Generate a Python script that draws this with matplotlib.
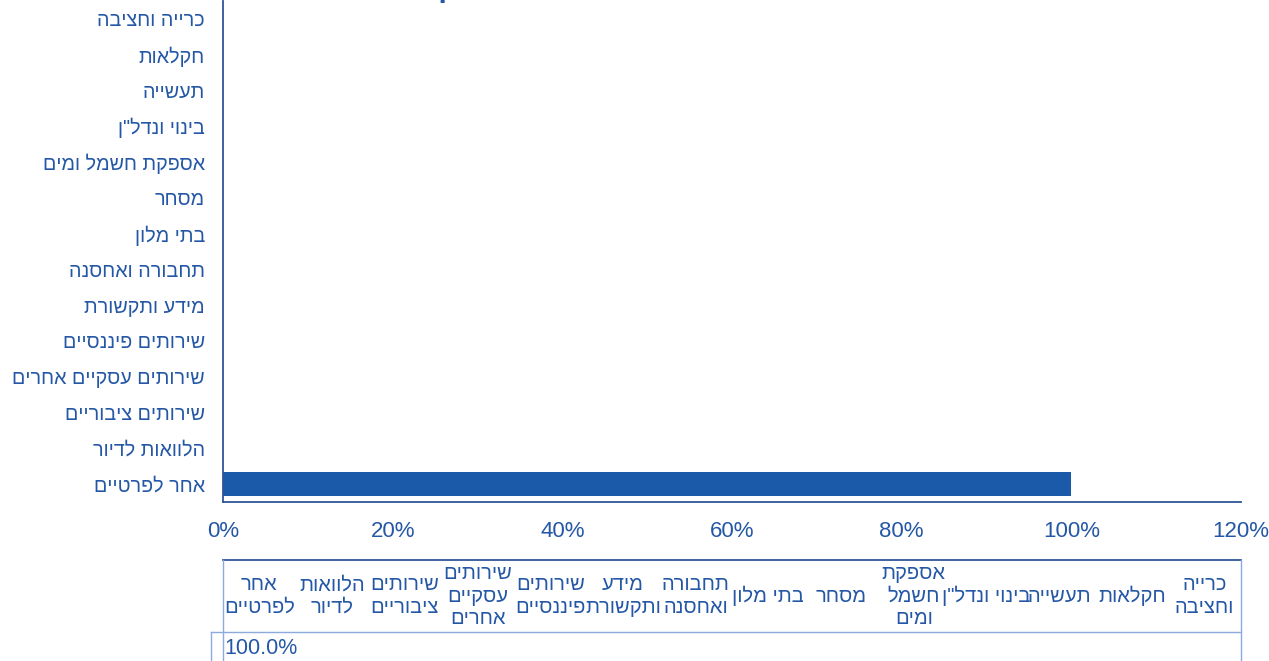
import numpy as np
import matplotlib.pyplot as plt
from matplotlib.ticker import FuncFormatter

# נתונים
categories = ['כרייה וחציבה', 'חקלאות', 'תעשייה', 'בינוי ונדל"ן', 'אספקת חשמל ומים',
              'מסחר', 'בתי מלון', 'תחבורה ואחסנה', 'מידע ותקשורת', 'שירותים פיננסיים',
              'שירותים עסקיים אחרים', 'שירותים ציבוריים', 'הלוואות לדיור', 'אחר לפרטיים']
values = [np.nan] * 13 + [1.0]
xticks = [0, 0.2, 0.4, 0.6, 0.8, 1.0, 1.2]
# כותרות הטבלה (שבירת שורות כפי שמופיע)
table_headers = ['כרייה\nוחציבה', 'חקלאות', 'תעשייה', 'בינוי ונדל"ן', 'אספקת\nחשמל\nומים',
                 'מסחר', 'בתי מלון', 'תחבורה\nואחסנה', 'מידע\nותקשורת', 'שירותים\nפיננסיים',
                 'שירותים\nעסקיים\nאחרים', 'שירותים\nציבוריים', 'הלוואות\nלדיור', 'אחר\nלפרטיים']
title = 'התפלגות האשראי הבעייתי לפי ענפי משק'

text_color = '#2457A5'
bar_color = '#1A5AA8'
line_dark = '#2F5597'
line_light = '#8EA9DB'

plt.rcParams['font.family'] = ['Liberation Sans', 'DejaVu Sans']


def rtl(s):
    # matplotlib לא מבצע bidi - הופכים כל שורה
    return '\n'.join(line[::-1] for line in s.split('\n'))


W, H = 1269, 661
fig = plt.figure(figsize=(W / 100, H / 100), dpi=100)

# גרף עמודות אופקי
ax = fig.add_axes([223 / W, (H - 502) / H, (1241 - 223) / W, 501 / H])
y = np.arange(len(categories))[::-1]
ax.barh(y, values, height=0.67, color=bar_color)
ax.set_ylim(-0.5, len(categories) - 0.5)
ax.set_xlim(0, 1.2)
ax.set_xticks(xticks)
ax.xaxis.set_major_formatter(FuncFormatter(lambda v, p: f'{v * 100:.0f}%'))
ax.set_yticks(y)
ax.set_yticklabels([rtl(c) for c in categories], fontsize=14.2, color=text_color)
ax.tick_params(axis='x', length=0, pad=14, labelsize=16, labelcolor=text_color)
ax.tick_params(axis='y', length=0, pad=13)
for s in ['top', 'right']:
    ax.spines[s].set_visible(False)
for s in ['left', 'bottom']:
    ax.spines[s].set_color(line_dark)
    ax.spines[s].set_linewidth(1.3)

# כותרת (חתוכה בחלק העליון)
fig.text(720 / W, 1.0 + 3 / H, rtl(title), ha='center', va='baseline',
         fontsize=22, fontweight='bold', color=text_color)

# טבלת נתונים
tax = fig.add_axes([223 / W, 0, (1241 - 223) / W, 101 / H])
tax.set_xlim(0, len(categories))
tax.set_ylim(0, 101)
tax.axis('off')
ncol = len(categories)
tax.plot([0, ncol], [101, 101], color=line_dark, lw=1.3, clip_on=False)
tax.plot([0, 0], [0, 101], color=line_light, lw=1.0, clip_on=False)
tax.plot([ncol, ncol], [0, 101], color=line_light, lw=1.0, clip_on=False)
tax.plot([-0.165, ncol], [29, 29], color=line_light, lw=1.0, clip_on=False)
tax.plot([-0.165, -0.165], [0, 29], color=line_light, lw=1.0, clip_on=False)

col_headers = table_headers[::-1]
col_values = values[::-1]
for i, (hdr, v) in enumerate(zip(col_headers, col_values)):
    tax.text(i + 0.5, 65, rtl(hdr), ha='center', va='center', fontsize=14.5,
             color=text_color, linespacing=1.25)
    if not np.isnan(v):
        tax.text(i + 0.02, 12, f'{v * 100:.1f}%', ha='left', va='center',
                 fontsize=15.5, color=text_color)

fig.savefig('out.png', dpi=100)
